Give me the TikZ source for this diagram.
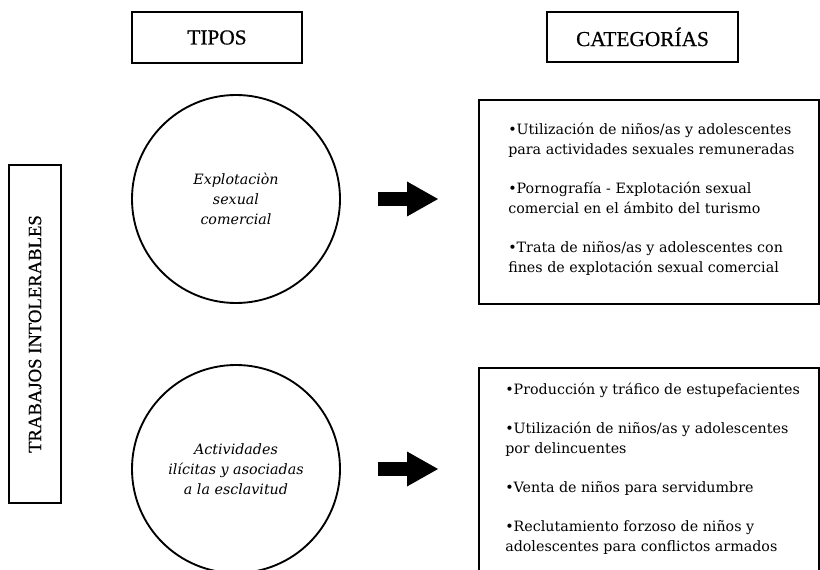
\documentclass[tikz,border=0pt]{standalone}
\usepackage{fontspec}
\setmainfont{DejaVu Serif}
\newfontfamily\headfont{Liberation Serif}[FakeBold=0.6]
\usetikzlibrary{arrows.meta}
\tikzset{
  headbox/.style={draw, line width=1.4pt, minimum height=38pt, inner sep=0pt, font=\headfont\fontsize{16}{19}\selectfont},
  tipo/.style={draw, circle, line width=1.4pt, minimum size=156pt, inner sep=0pt, align=center, font=\itshape\fontsize{10.7}{15}\selectfont},
  catbox/.style={draw, line width=1.4pt, minimum width=255pt, anchor=north west},
  items/.style={align=left, anchor=west, inner sep=0pt, font=\fontsize{10.7}{15}\selectfont},
  bigarrow/.style={line width=10.5pt, -{Triangle[width=26.25pt,length=23.25pt,line width=0pt]}, shorten <=27.75pt, shorten >=30pt}
}
\begin{document}
\begin{tikzpicture}[x=0.75pt,y=-0.75pt]
\useasboundingbox (0,0) rectangle (820,570);
\clip (0,0) rectangle (820,570);
% headings
\node[headbox, minimum width=127.5pt] (tipos) at (217,37.5) {TIPOS};
\node[headbox, minimum width=143.25pt] (categ) at (642.5,37) {CATEGORÍAS};
\node[headbox, rotate=90, minimum width=253.5pt, minimum height=39pt, font=\headfont\fontsize{14}{17}\selectfont] (trab) at (35,334) {TRABAJOS INTOLERABLES};
% types
\node[tipo] (tipo1) at (236,199) {Explotaciòn\\ sexual\\ comercial};
\node[tipo] (tipo2) at (236,469) {Actividades\\ ilícitas y asociadas\\ a la esclavitud};
% categories
\node[catbox, minimum height=153pt] (cat1) at (478,99) {};
\node[catbox, minimum height=180pt] (cat2) at (478,367) {};
\node[items] (list1) at (508,199) {•Utilización de niños/as y adolescentes\\
para actividades sexuales remuneradas\\[14.25pt]
•Pornografía - Explotación sexual\\
comercial en el ámbito del turismo\\[14.25pt]
•Trata de niños/as y adolescentes con\\
fines de explotación sexual comercial};
\node[items] (list2) at (505,469) {•Producción y tráfico de estupefacientes\\[14.25pt]
•Utilización de niños/as y adolescentes\\
por delincuentes\\[14.25pt]
•Venta de niños para servidumbre\\[14.25pt]
•Reclutamiento forzoso de niños y\\
adolescentes para conflictos armados};
\foreach \i in {1,2} {
  \draw[bigarrow] (tipo\i.east) -- (tipo\i.east -| cat\i.west);
}
\end{tikzpicture}
\end{document}
